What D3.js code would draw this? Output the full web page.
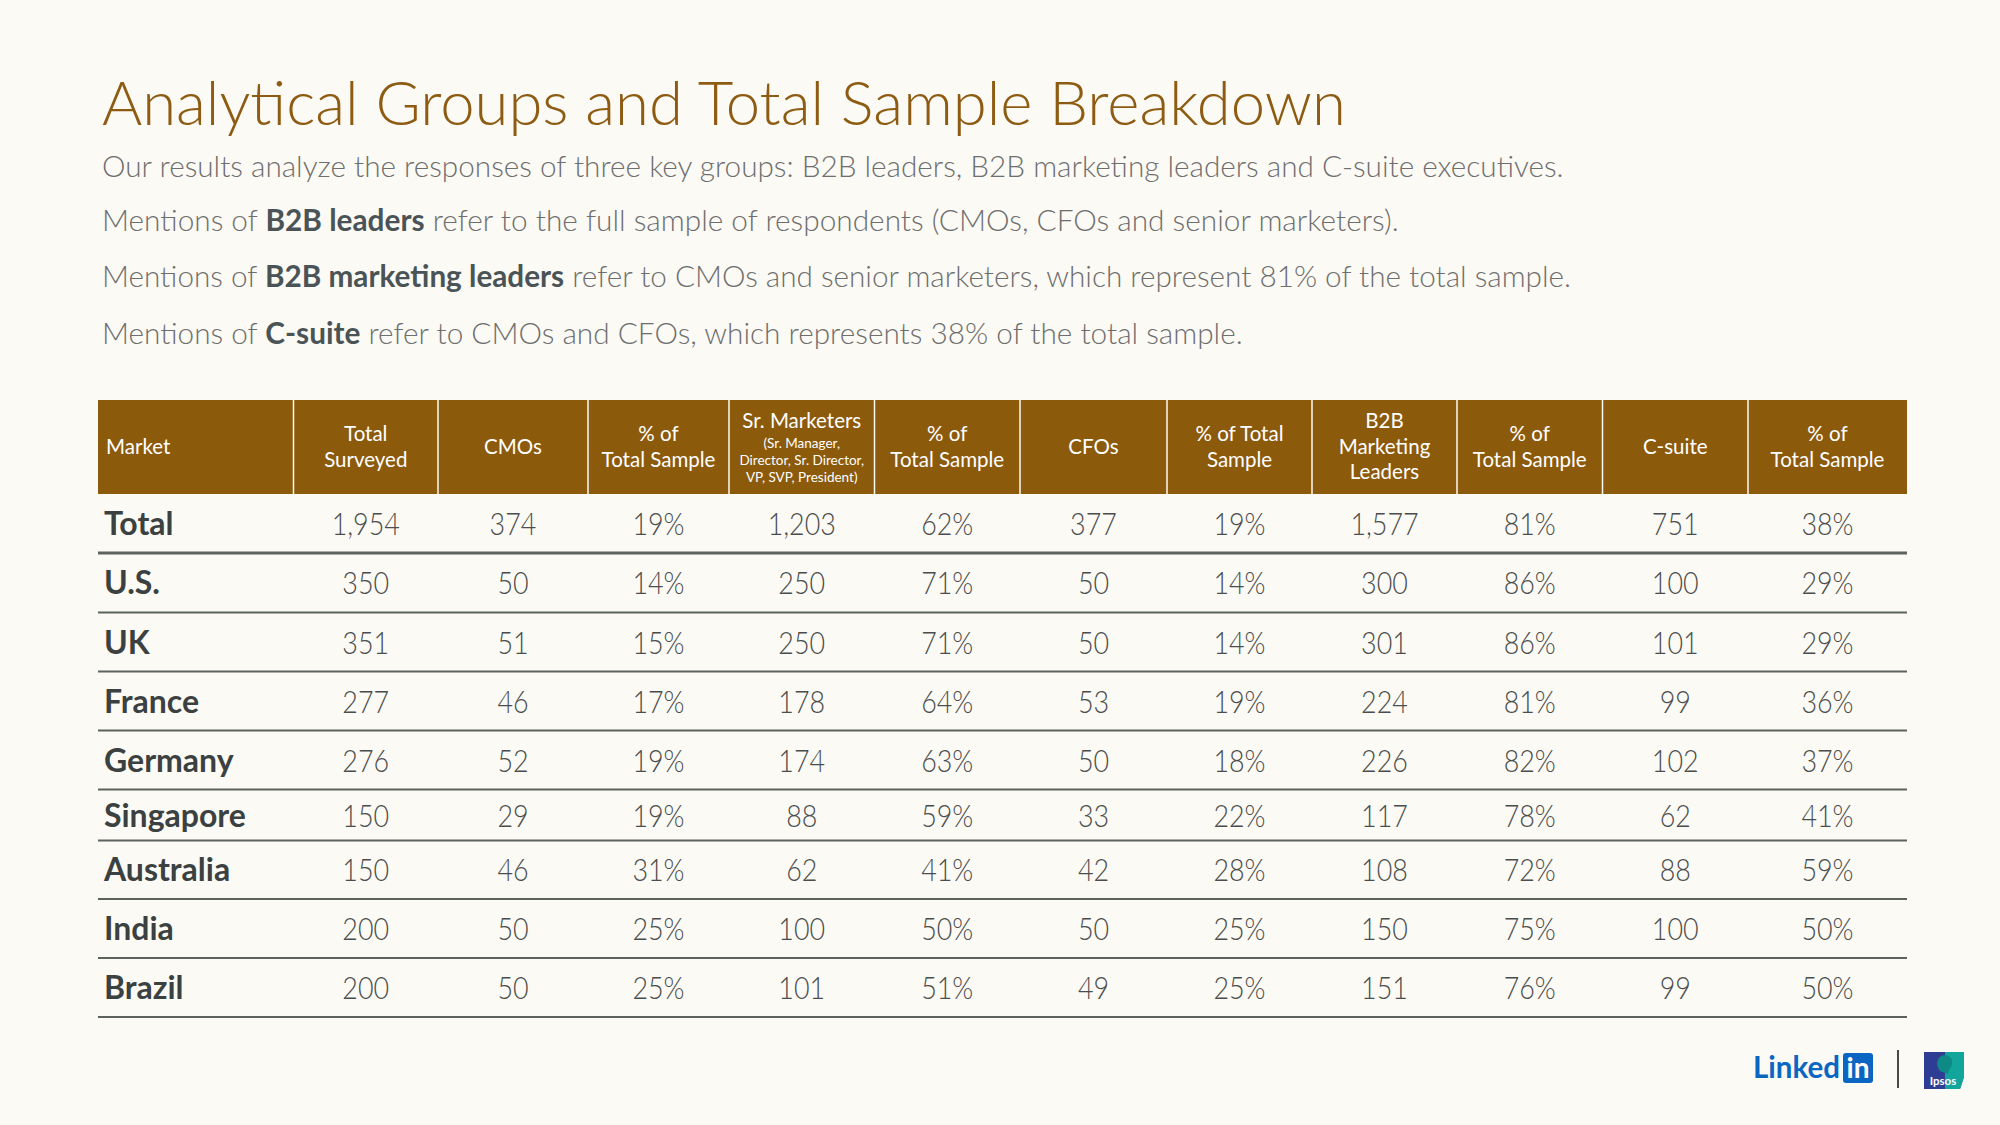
<!DOCTYPE html>
<html>
<head>
<meta charset="utf-8">
<script src="https://cdn.jsdelivr.net/npm/d3@7"></script>
<style>
  html, body { margin: 0; padding: 0; background: #FCFAF5; }
  svg { display: block; }
</style>
</head>
<body>
<svg id="chart" width="2000" height="1125"></svg>
<script>
// ---------------- DATA ----------------
const markets       = ["Total", "U.S.", "UK", "France", "Germany", "Singapore", "Australia", "India", "Brazil"];
const totalSurveyed = [1954, 350, 351, 277, 276, 150, 150, 200, 200];
const cmos          = [374, 50, 51, 46, 52, 29, 46, 50, 50];
const cmosPct       = [19, 14, 15, 17, 19, 19, 31, 25, 25];
const srMarketers   = [1203, 250, 250, 178, 174, 88, 62, 100, 101];
const srMarketersPct= [62, 71, 71, 64, 63, 59, 41, 50, 51];
const cfos          = [377, 50, 50, 53, 50, 33, 42, 50, 49];
const cfosPct       = [19, 14, 14, 19, 18, 22, 28, 25, 25];
const b2bMktLeaders = [1577, 300, 301, 224, 226, 117, 108, 150, 151];
const b2bMktPct     = [81, 86, 86, 81, 82, 78, 72, 75, 76];
const cSuite        = [751, 100, 101, 99, 102, 62, 88, 100, 99];
const cSuitePct     = [38, 29, 29, 36, 37, 41, 59, 50, 50];

const columnHeaders = [
  ["Market"],
  ["Total", "Surveyed"],
  ["CMOs"],
  ["% of", "Total Sample"],
  ["Sr. Marketers", "(Sr. Manager,", "Director, Sr. Director,", "VP, SVP, President)"],
  ["% of", "Total Sample"],
  ["CFOs"],
  ["% of Total", "Sample"],
  ["B2B", "Marketing", "Leaders"],
  ["% of", "Total Sample"],
  ["C-suite"],
  ["% of", "Total Sample"]
];

const titleText = "Analytical Groups and Total Sample Breakdown";
const introLines = [
  [["Our results analyze the responses of three key groups: B2B leaders, B2B marketing leaders and C-suite executives.", false]],
  [["Mentions of ", false], ["B2B leaders", true], [" refer to the full sample of respondents (CMOs, CFOs and senior marketers).", false]],
  [["Mentions of ", false], ["B2B marketing leaders", true], [" refer to CMOs and senior marketers, which represent 81% of the total sample.", false]],
  [["Mentions of ", false], ["C-suite", true], [" refer to CMOs and CFOs, which represents 38% of the total sample.", false]]
];

// ---------------- LAYOUT ----------------
const svg = d3.select("#chart");
const W = 2000, H = 1125;
svg.append("rect").attr("width", W).attr("height", H).attr("fill", "#FCFAF5");

const FONT = "Lato, 'Open Sans', sans-serif";
const BROWN = "#8C5A0B";

function fitText(sel, targetWidth) {
  const node = sel.node();
  const fs = parseFloat(sel.attr("font-size"));
  const w = node.getComputedTextLength();
  if (w > 0) sel.attr("font-size", (fs * targetWidth / w).toFixed(2));
}

// Title
const title = svg.append("text")
  .attr("x", 102).attr("y", 125)
  .attr("font-family", FONT).attr("font-weight", 300)
  .attr("font-size", 66).attr("fill", "#8E5B12")
  .text(titleText);
fitText(title, 1244);

// Intro lines
const introBaselines = [177, 231, 287, 344];
const introWidths = [1462, 1297, 1469, 1141];
introLines.forEach((parts, i) => {
  const t = svg.append("text")
    .attr("x", 102).attr("y", introBaselines[i])
    .attr("font-family", FONT).attr("font-size", 30);
  parts.forEach(([s, b]) => {
    t.append("tspan").text(s)
      .attr("font-weight", b ? 700 : 300)
      .attr("fill", b ? "#4A5457" : "#6E6E6E");
  });
  fitText(t, introWidths[i]);
});

// Table geometry
const colEdges = [98, 293.5, 438, 588, 729, 874.5, 1020, 1167, 1312, 1457, 1602.5, 1748, 1907];
const headerTop = 400, headerBottom = 494;
const rowHeights = [59, 59.5, 59, 59, 59, 51, 58.5, 59, 59];

const colIdx = d3.range(columnHeaders.length);
const xLeft = d3.scaleOrdinal(colIdx, colEdges.slice(0, -1));
const xRight = d3.scaleOrdinal(colIdx, colEdges.slice(1));
const xMid = i => (xLeft(i) + xRight(i)) / 2;

const rowTops = [];
rowHeights.reduce((acc, h) => { rowTops.push(acc); return acc + h; }, headerBottom);
const yTop = d3.scaleOrdinal(markets, rowTops);
const yH = d3.scaleOrdinal(markets, rowHeights);

// Header background
const header = svg.append("g");
header.append("rect")
  .attr("x", colEdges[0]).attr("y", headerTop)
  .attr("width", colEdges[colEdges.length - 1] - colEdges[0])
  .attr("height", headerBottom - headerTop)
  .attr("fill", BROWN);
header.selectAll("line.div")
  .data(colIdx.slice(1))
  .join("line")
  .attr("x1", d => xLeft(d)).attr("x2", d => xLeft(d))
  .attr("y1", headerTop).attr("y2", headerBottom)
  .attr("stroke", "#FCFAF5").attr("stroke-width", 1.5);

// Header text
const headerBaselines = {
  1: [454],
  2: [441, 467],
  3: [428, 453.5, 479],
  4: [428, 448, 465, 482]
};
columnHeaders.forEach((lines, ci) => {
  const bl = headerBaselines[lines.length];
  lines.forEach((ln, li) => {
    const small = lines.length === 4 && li > 0;
    header.append("text")
      .attr("x", ci === 0 ? 106 : xMid(ci))
      .attr("y", bl[li])
      .attr("text-anchor", ci === 0 ? "start" : "middle")
      .attr("font-family", FONT)
      .attr("font-weight", 400)
      .attr("font-size", small ? 13.5 : 20.5)
      .attr("fill", "#FFFFFF")
      .text(ln);
  });
});

// Body
const fmt = d3.format(",");
const pct = v => v + "%";
const columns = [
  totalSurveyed.map(fmt), cmos.map(fmt), cmosPct.map(pct),
  srMarketers.map(fmt), srMarketersPct.map(pct), cfos.map(fmt), cfosPct.map(pct),
  b2bMktLeaders.map(fmt), b2bMktPct.map(pct), cSuite.map(fmt), cSuitePct.map(pct)
];

const body = svg.append("g");
const rows = body.selectAll("g.row")
  .data(markets)
  .join("g").attr("class", "row");

// row separators
rows.append("line")
  .attr("x1", colEdges[0]).attr("x2", colEdges[colEdges.length - 1])
  .attr("y1", d => yTop(d) + yH(d)).attr("y2", d => yTop(d) + yH(d))
  .attr("stroke", "#5C625E")
  .attr("stroke-width", (d, i) => i === 0 ? 3.2 : 1.8);

// market names
rows.append("text")
  .attr("x", 104)
  .attr("y", d => yTop(d) + yH(d) / 2 + 11.5)
  .attr("font-family", FONT).attr("font-weight", 700)
  .attr("font-size", 32).attr("fill", "#3B4141")
  .text(d => d);

// values
rows.each(function (m, ri) {
  const g = d3.select(this);
  columns.forEach((col, ci) => {
    const cx = xMid(ci + 1);
    const cy = yTop(m) + yH(m) / 2 + 11.5;
    g.append("text")
      .attr("transform", `translate(${cx},${cy}) scale(0.84,1)`)
      .attr("text-anchor", "middle")
      .attr("font-family", FONT).attr("font-weight", 300)
      .attr("font-size", 32).attr("fill", "#4A4D4D")
      .text(col[ri]);
  });
});

// ---------------- LOGOS ----------------
const logos = svg.append("g");
const li = logos.append("text")
  .attr("x", 1753).attr("y", 1078)
  .attr("font-family", FONT).attr("font-weight", 700)
  .attr("font-size", 29).attr("fill", "#0A66C2")
  .text("Linked");
fitText(li, 87);
logos.append("rect")
  .attr("x", 1843).attr("y", 1053).attr("width", 30).attr("height", 30)
  .attr("rx", 3).attr("fill", "#0A66C2");
logos.append("text")
  .attr("x", 1858).attr("y", 1078)
  .attr("text-anchor", "middle")
  .attr("font-family", FONT).attr("font-weight", 700)
  .attr("font-size", 28).attr("fill", "#FFFFFF")
  .text("in");
logos.append("line")
  .attr("x1", 1898).attr("x2", 1898).attr("y1", 1050).attr("y2", 1088)
  .attr("stroke", "#4A4A4A").attr("stroke-width", 2);

// Ipsos
logos.append("path")
  .attr("d", "M1924,1052 H1964 V1077 L1960,1089 H1924 Z")
  .attr("fill", "#2E3C93");
logos.append("path")
  .attr("d", "M1945,1052 H1964 V1077 L1960,1089 H1945 Z")
  .attr("fill", "#12A59C");
logos.append("path")
  .attr("d", "M1940,1071 C1937,1067 1936,1062 1939,1058 C1942,1054 1948,1054 1951,1058 C1953,1062 1952,1067 1949,1070 L1948,1074 Z")
  .attr("fill", "#0E8A86");
logos.append("text")
  .attr("x", 1943).attr("y", 1085)
  .attr("text-anchor", "middle")
  .attr("font-family", FONT).attr("font-weight", 700)
  .attr("font-size", 11.5).attr("fill", "#FFFFFF")
  .text("Ipsos");
</script>
</body>
</html>
